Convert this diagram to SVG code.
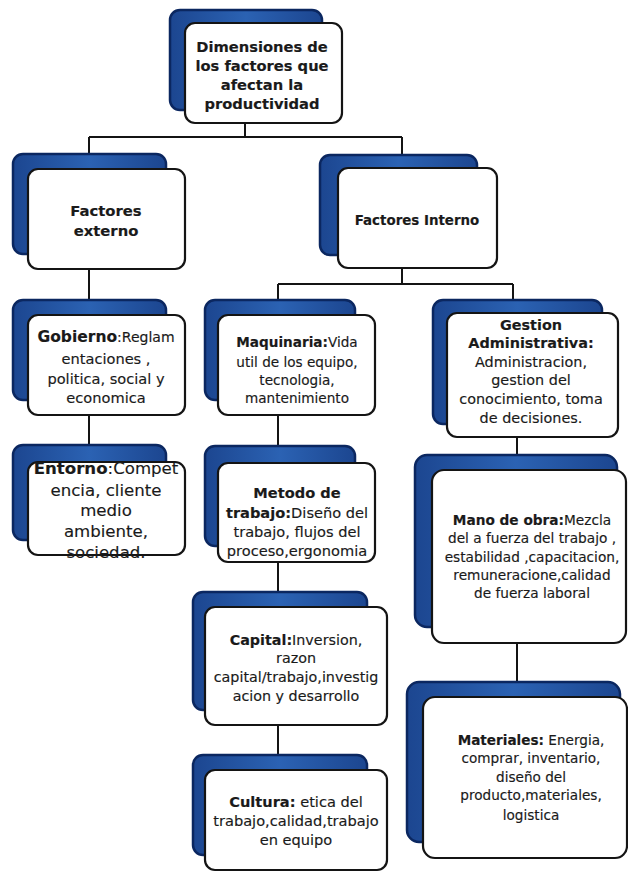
<svg xmlns="http://www.w3.org/2000/svg" width="628" height="875" viewBox="0 0 628 875">
<defs>
<linearGradient id="bg" x1="0" y1="0" x2="1" y2="0">
<stop offset="0" stop-color="#1c4690"/>
<stop offset="0.5" stop-color="#2b62b3"/>
<stop offset="1" stop-color="#1c4690"/>
</linearGradient>
</defs>
<style>
.back{fill:url(#bg);stroke:#0b2760;stroke-width:2.5}
.front{fill:#ffffff;stroke:#141414;stroke-width:2.2}
.t{font-family:"DejaVu Sans","Liberation Sans",sans-serif;fill:#1a1a1a;stroke:#1a1a1a;stroke-width:0.15;text-anchor:middle;font-size:14px}
.b{font-weight:bold}
.conn{fill:none;stroke:#141414;stroke-width:2}
</style>
<rect width="628" height="875" fill="#ffffff"/>
<g id="connectors">
<path class="conn" d="M245,123V137M89,137H402M89,137V155M402,137V155"/>
<path class="conn" d="M89,269V300M89,415V446"/>
<path class="conn" d="M402,268V284M278,284H513M278,284V300M513,284V300"/>
<path class="conn" d="M278,415V446M278,562V592M278,725V755"/>
<path class="conn" d="M517,437V455M517,643V682"/>
</g>
<g id="n-top">
<rect class="back" x="170" y="10" width="152" height="100" rx="10"/>
<rect class="front" x="185" y="23" width="157" height="100" rx="10"/>
<text class="t b" style="font-size:14.7px"><tspan x="262" y="52">Dimensiones de</tspan><tspan x="262" y="71">los factores que</tspan><tspan x="262" y="90">afectan la</tspan><tspan x="262" y="109">productividad</tspan></text>
</g>
<g id="n-externo">
<rect class="back" x="13" y="154" width="153" height="100" rx="10"/>
<rect class="front" x="28" y="169" width="157" height="100" rx="10"/>
<text class="t b" style="font-size:14.8px"><tspan x="106" y="216">Factores</tspan><tspan x="106" y="236">externo</tspan></text>
</g>
<g id="n-interno">
<rect class="back" x="320" y="155" width="157" height="100" rx="10"/>
<rect class="front" x="338" y="168" width="159" height="100" rx="10"/>
<text class="t b" x="417" y="225" style="font-size:13.4px">Factores Interno</text>
</g>
<g id="n-gobierno">
<rect class="back" x="13" y="300" width="153" height="100" rx="10"/>
<rect class="front" x="28" y="315" width="157" height="100" rx="10"/>
<text class="t" style="font-size:14.6px"><tspan x="106" y="342"><tspan class="b" style="font-size:15.5px">Gobierno</tspan><tspan style="font-size:14px">:Reglam</tspan></tspan><tspan x="106" y="364">entaciones ,</tspan><tspan x="106" y="384">politica, social y</tspan><tspan x="106" y="403">economica</tspan></text>
</g>
<g id="n-entorno">
<rect class="back" x="13" y="445" width="153" height="95" rx="10"/>
<rect class="front" x="28" y="462" width="157" height="93" rx="10"/>
<text class="t" style="font-size:16.6px"><tspan x="106" y="474"><tspan class="b">Entorno</tspan>:Compet</tspan><tspan x="106" y="496">encia, cliente</tspan><tspan x="106" y="516">medio</tspan><tspan x="106" y="537">ambiente,</tspan><tspan x="106" y="558">sociedad.</tspan></text>
</g>
<g id="n-maquinaria">
<rect class="back" x="205" y="300" width="150" height="100" rx="10"/>
<rect class="front" x="218" y="315" width="157" height="100" rx="10"/>
<text class="t" style="font-size:13.6px"><tspan x="297" y="347"><tspan class="b">Maquinaria:</tspan>Vida</tspan><tspan x="297" y="367">util de los equipo,</tspan><tspan x="297" y="385">tecnologia,</tspan><tspan x="297" y="403">mantenimiento</tspan></text>
</g>
<g id="n-metodo">
<rect class="back" x="205" y="446" width="150" height="100" rx="10"/>
<rect class="front" x="218" y="463" width="157" height="99" rx="10"/>
<text class="t" style="font-size:14.6px"><tspan x="297" y="498" class="b">Metodo de</tspan><tspan x="297" y="518"><tspan class="b">trabajo:</tspan>Diseño del</tspan><tspan x="297" y="537">trabajo, flujos del</tspan><tspan x="297" y="556">proceso,ergonomia</tspan></text>
</g>
<g id="n-capital">
<rect class="back" x="193" y="592" width="174" height="118" rx="10"/>
<rect class="front" x="205" y="607" width="182" height="118" rx="10"/>
<text class="t" style="font-size:14.3px"><tspan x="296" y="645"><tspan class="b">Capital:</tspan>Inversion,</tspan><tspan x="296" y="663">razon</tspan><tspan x="296" y="682">capital/trabajo,investig</tspan><tspan x="296" y="701">acion y desarrollo</tspan></text>
</g>
<g id="n-cultura">
<rect class="back" x="193" y="755" width="174" height="100" rx="10"/>
<rect class="front" x="205" y="770" width="182" height="100" rx="10"/>
<text class="t" style="font-size:14.6px"><tspan x="296" y="807"><tspan class="b">Cultura:</tspan> etica del</tspan><tspan x="296" y="826">trabajo,calidad,trabajo</tspan><tspan x="296" y="845">en equipo</tspan></text>
</g>
<g id="n-gestion">
<rect class="back" x="433" y="300" width="169" height="124" rx="10"/>
<rect class="front" x="447" y="313" width="171" height="124" rx="10"/>
<text class="t" style="font-size:14.4px"><tspan x="531" y="330" class="b">Gestion</tspan><tspan x="531" y="348" class="b">Administrativa:</tspan><tspan x="531" y="367">Administracion,</tspan><tspan x="531" y="385">gestion del</tspan><tspan x="531" y="404">conocimiento, toma</tspan><tspan x="531" y="423">de decisiones.</tspan></text>
</g>
<g id="n-mano">
<rect class="back" x="415" y="455" width="202" height="172" rx="12"/>
<rect class="front" x="432" y="470" width="194" height="173" rx="12"/>
<text class="t" style="font-size:13.7px"><tspan x="532" y="525"><tspan class="b">Mano de obra:</tspan>Mezcla</tspan><tspan x="532" y="543">del a fuerza del trabajo ,</tspan><tspan x="532" y="562">estabilidad ,capacitacion,</tspan><tspan x="532" y="580">remuneracione,calidad</tspan><tspan x="532" y="598">de fuerza laboral</tspan></text>
</g>
<g id="n-materiales">
<rect class="back" x="407" y="682" width="213" height="160" rx="12"/>
<rect class="front" x="423" y="697" width="204" height="161" rx="12"/>
<text class="t" style="font-size:13.6px"><tspan x="531" y="745"><tspan class="b">Materiales:</tspan> Energia,</tspan><tspan x="531" y="763">comprar, inventario,</tspan><tspan x="531" y="782">diseño del</tspan><tspan x="531" y="800">producto,materiales,</tspan><tspan x="531" y="820">logistica</tspan></text>
</g>
</svg>
